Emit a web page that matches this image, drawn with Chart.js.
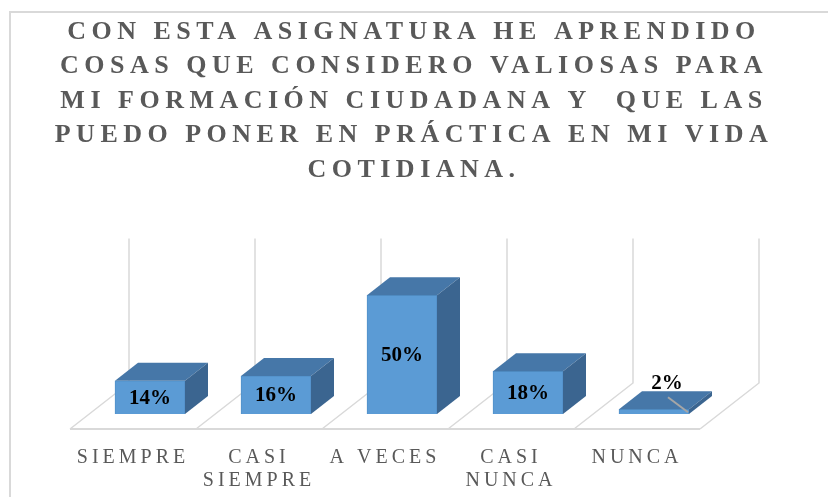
<!DOCTYPE html>
<html>
<head>
<meta charset="utf-8">
<script src="https://cdn.jsdelivr.net/npm/chart.js@4.4.0/dist/chart.umd.min.js"></script>
<style>
  html, body { margin: 0; padding: 0; background: #fff; overflow: hidden; }
  #frame { position: absolute; left: 9px; top: 11px; width: 900px; height: 600px; border: 2px solid #d9d9d9; }
  #chart { position: absolute; left: 0; top: 0; }
</style>
</head>
<body>
<div id="frame"></div>
<canvas id="chart" width="828" height="516"></canvas>
<script>
const titleLines = [
    'CON ESTA ASIGNATURA HE APRENDIDO',
    'COSAS QUE CONSIDERO VALIOSAS PARA',
    'MI FORMACIÓN CIUDADANA Y  QUE LAS',
    'PUEDO PONER EN PRÁCTICA EN MI VIDA',
    'COTIDIANA.'
];
const categories = ['SIEMPRE', ['CASI', 'SIEMPRE'], 'A VECES', ['CASI', 'NUNCA'], 'NUNCA'];
const percentages = [14, 16, 50, 18, 2];

// fake 3d: depth of the bars and of the floor/back wall
const BAR_DEPTH = { dx: 23, dy: -18 };
const FRONT = { dx: -17, dy: 15 };
const BACK = { dx: 42, dy: -31 };

const threeD = {
    id: 'threeD',
    beforeDraw(chart) {
        chart.ctx.letterSpacing = '5.5px';
    },
    beforeDatasetsDraw(chart) {
        const ctx = chart.ctx;
        const xs = chart.scales.x, ys = chart.scales.y;
        const base = ys.getPixelForValue(0);
        const top = ys.top + BACK.dy - 2;
        const step = (xs.right - xs.left) / categories.length;
        ctx.save();
        ctx.strokeStyle = '#d9d9d9';
        ctx.lineWidth = 1.5;
        for (let i = 0; i <= categories.length; i++) {
            const b = xs.left + i * step;
            ctx.beginPath();
            ctx.moveTo(b + BACK.dx, top);
            ctx.lineTo(b + BACK.dx, base + BACK.dy);
            ctx.lineTo(b + FRONT.dx, base + FRONT.dy);
            ctx.stroke();
        }
        ctx.lineWidth = 2;
        ctx.beginPath();
        ctx.moveTo(xs.left + FRONT.dx, base + FRONT.dy);
        ctx.lineTo(xs.right + FRONT.dx, base + FRONT.dy);
        ctx.stroke();
        ctx.restore();
    },
    afterDatasetsDraw(chart) {
        const ctx = chart.ctx;
        const meta = chart.getDatasetMeta(0);
        ctx.save();
        meta.data.forEach((bar, i) => {
            const { x, y, base, width } = bar.getProps(['x', 'y', 'base', 'width'], true);
            const l = x - width / 2, r = x + width / 2;
            ctx.fillStyle = '#4677a8';
            ctx.beginPath();
            ctx.moveTo(l, y);
            ctx.lineTo(r, y);
            ctx.lineTo(r + BAR_DEPTH.dx, y + BAR_DEPTH.dy);
            ctx.lineTo(l + BAR_DEPTH.dx, y + BAR_DEPTH.dy);
            ctx.closePath();
            ctx.fill();
            ctx.fillStyle = '#3b6590';
            ctx.beginPath();
            ctx.moveTo(r, y);
            ctx.lineTo(r + BAR_DEPTH.dx, y + BAR_DEPTH.dy);
            ctx.lineTo(r + BAR_DEPTH.dx, base + BAR_DEPTH.dy);
            ctx.lineTo(r, base);
            ctx.closePath();
            ctx.fill();
        });
        // data labels
        ctx.letterSpacing = '0px';
        ctx.font = 'bold 21px "Liberation Serif"';
        ctx.fillStyle = '#000';
        ctx.textAlign = 'center';
        ctx.textBaseline = 'middle';
        meta.data.forEach((bar, i) => {
            const { x, y, base } = bar.getProps(['x', 'y', 'base'], true);
            const txt = percentages[i] + '%';
            if (base - y > 20) {
                ctx.fillText(txt, x, (y + base) / 2 + 1);
            } else {
                ctx.fillText(txt, x + 13, y - 26);
                ctx.strokeStyle = '#a6a6a6';
                ctx.lineWidth = 2;
                ctx.beginPath();
                ctx.moveTo(x + 14, y - 12);
                ctx.lineTo(x + 34, y + 3);
                ctx.stroke();
            }
        });
        ctx.restore();
        // spacing for the x labels, drawn after this (ticks z = 1)
        ctx.letterSpacing = '4px';
    }
};

new Chart(document.getElementById('chart'), {
    type: 'bar',
    data: {
        labels: categories,
        datasets: [{
            data: percentages,
            backgroundColor: '#5b9bd5',
            borderColor: '#5290c9',
            borderWidth: 1,
            barThickness: 70
        }]
    },
    options: {
        responsive: false,
        animation: false,
        devicePixelRatio: 1,
        layout: { padding: 0 },
        plugins: {
            legend: { display: false },
            tooltip: { enabled: false },
            title: {
                display: true,
                text: titleLines,
                color: '#595959',
                font: { family: '"Liberation Serif"', size: 26, weight: 'bold', lineHeight: 1.327 },
                padding: { top: 15, bottom: 84 }
            }
        },
        scales: {
            x: {
                grid: { display: false },
                border: { display: false },
                ticks: {
                    color: '#595959',
                    font: { family: '"Liberation Serif"', size: 20, lineHeight: 1.15 },
                    padding: 24,
                    labelOffset: -17,
                    maxRotation: 0,
                    autoSkip: false,
                    z: 1
                }
            },
            y: {
                min: 0,
                max: 60,
                grid: { display: false },
                border: { display: false },
                ticks: { display: false },
                afterFit(s) { s.width = 87; }
            },
            yRight: {
                position: 'right',
                min: 0,
                max: 60,
                grid: { display: false },
                border: { display: false },
                ticks: { display: false },
                afterFit(s) { s.width = 111; }
            }
        }
    },
    plugins: [threeD]
});
</script>
</body>
</html>
